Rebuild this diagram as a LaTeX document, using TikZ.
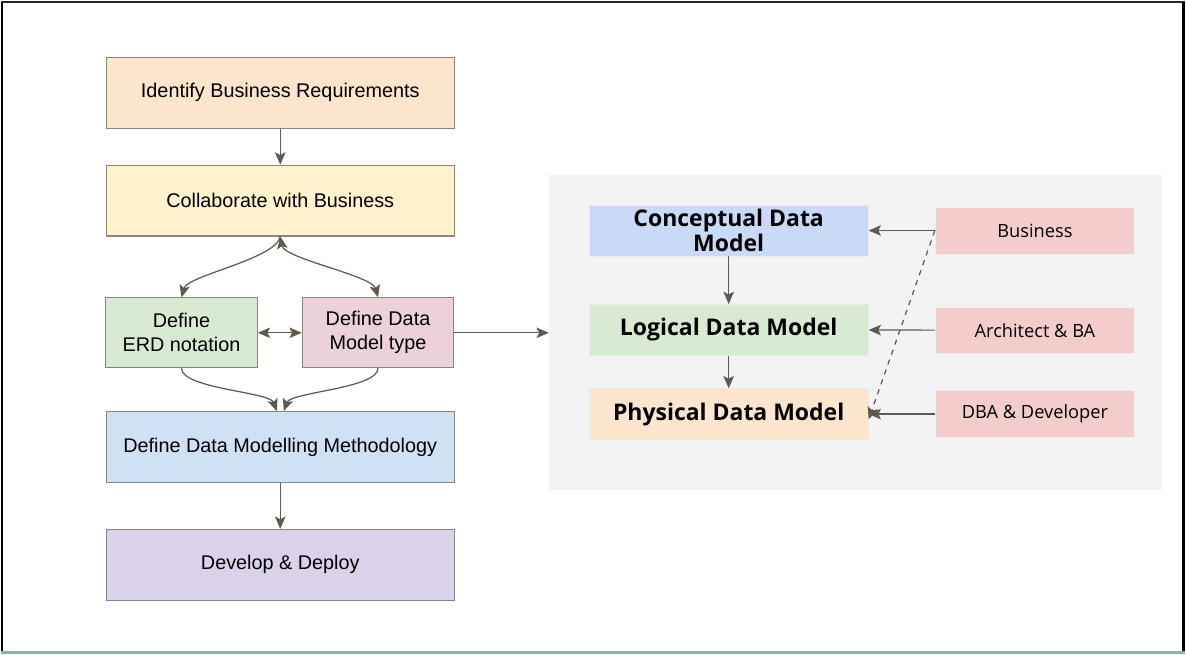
\documentclass[tikz,border=0pt]{standalone}
\usepackage{fontspec}
\setmainfont{Liberation Sans}
\newfontfamily\osans{Open Sans}
\usetikzlibrary{arrows.meta,positioning}
\usepackage{xcolor}

\definecolor{peach}{HTML}{FCE5CD}
\definecolor{cream}{HTML}{FFF2CC}
\definecolor{sage}{HTML}{D9EAD3}
\definecolor{rose}{HTML}{EAD1DC}
\definecolor{sky}{HTML}{CFE2F3}
\definecolor{lilac}{HTML}{D9D2E9}
\definecolor{cornflower}{HTML}{C9DAF8}
\definecolor{blush}{HTML}{F4CCCC}
\definecolor{panelgray}{HTML}{F3F3F3}
\definecolor{edgegray}{HTML}{8A8580}
\definecolor{arrowgray}{HTML}{5E5A4E}
\definecolor{teal}{HTML}{6FC1B1}

\begin{document}
\begin{tikzpicture}[x=0.02cm, y=-0.02cm,
    step box/.style={draw=edgegray, line width=0.6pt, align=center, font=\fontsize{11.3}{13.6}\selectfont,
        minimum width=6.98cm, minimum height=1.42cm, inner sep=0pt},
    half box/.style={step box, minimum width=3.04cm, minimum height=1.4cm},
    model box/.style={draw=black!8, align=center, font=\osans\bfseries\fontsize{13.1}{14.5}\selectfont,
        minimum width=5.6cm, minimum height=1.02cm, inner sep=0pt},
    role box/.style={draw=black!6, fill=blush, align=center, font=\osans\fontsize{10.4}{12}\selectfont,
        minimum width=4cm, minimum height=0.94cm, inner sep=0pt},
    flow/.style={draw=arrowgray, line width=0.7pt, -{Stealth[length=7pt,width=6pt,inset=1.5pt]}},
    twoway/.style={flow, {Stealth[length=7pt,width=6pt,inset=1.5pt]}-{Stealth[length=7pt,width=6pt,inset=1.5pt]}}]

    % page and frame
    \fill[white] (0,0) rectangle (1186,654);
    \draw[black!85, line width=1.2pt] (0,0.5) -- (1186,0.5);
    \draw[black, line width=1pt] (0.5,0) -- (0.5,651);
    \draw[black, line width=1.8pt] (1184.5,0) -- (1184.5,651);
    \draw[teal, line width=1.6pt] (0,652.5) -- (1186,652.5);

    % left flow
    \node[step box, fill=peach] (ident) at (279.5,91.5) {Identify Business Requirements};
    \node[step box, fill=cream] (collab) at (279.5,199.5) {Collaborate with Business};
    \node[half box, fill=sage] (erd) at (180.5,332) {Define\\ERD notation};
    \node[half box, fill=rose] (dmtype) at (377.5,332) {Define Data\\Model type};
    \node[step box, fill=sky] (method) at (279.5,446.5) {Define Data Modelling Methodology};
    \node[step box, fill=lilac] (deploy) at (279.5,564.5) {Develop \& Deploy};

    % model panel
    \node[fill=panelgray, minimum width=12.28cm, minimum height=6.32cm] (panel) at (856,332) {};
    \node[model box, fill=cornflower] (concept) at (729,229.5) {Conceptual Data\\Model};
    \node[model box, fill=sage] (logical) at (729,329) {Logical Data Model};
    \node[model box, fill=peach] (physical) at (729,413.5) {Physical Data Model};
    \node[role box] (business) at (1036,229.5) {Business};
    \node[role box] (architect) at (1036,329.5) {Architect \& BA};
    \node[role box] (dba) at (1036,413.5) {DBA \& Developer};

    % connectors
    \draw[flow] (ident) -- (collab);
    \draw[flow] (collab.south) to[out=-100, in=75, looseness=0.5] (erd.north);
    \draw[twoway] (collab.south) to[out=-80, in=105, looseness=0.5] (dmtype.north);
    \draw[twoway] (erd) -- (dmtype);
    \draw[flow] (erd.south) to[out=-90, in=110, looseness=0.5] ([xshift=-2]method.north);
    \draw[flow] (dmtype.south) to[out=-90, in=70, looseness=0.5] ([xshift=2]method.north);
    \draw[flow] (method) -- (deploy);
    \draw[flow] (dmtype) -- (panel.west);

    \draw[flow] (concept) -- (logical);
    \draw[flow] (logical) -- (physical);
    \draw[flow] (business) -- (concept);
    \draw[flow] (architect) -- (logical);
    \draw[flow] (dba) -- (physical);
    \draw[flow, dashed] (business.west) -- ([yshift=-3]physical.east);
\end{tikzpicture}
\end{document}
